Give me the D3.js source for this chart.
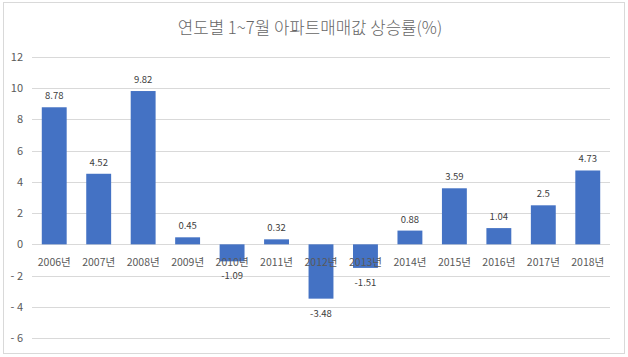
<!DOCTYPE html>
<html><head><meta charset="utf-8">
<script src="https://cdn.jsdelivr.net/npm/d3@7"></script>
<style>
body{margin:0;background:#fff;}
svg{display:block;font-family:"Noto Sans CJK KR","Noto Sans",sans-serif;}
</style></head>
<body>
<script>
const categories = ["2006년","2007년","2008년","2009년","2010년","2011년","2012년","2013년","2014년","2015년","2016년","2017년","2018년"];
const values = [8.78,4.52,9.82,0.45,-1.09,0.32,-3.48,-1.51,0.88,3.59,1.04,2.5,4.73];
const yTicks = [-6,-4,-2,0,2,4,6,8,10,12];
const title = "연도별 1~7월 아파트매매값 상승률(%)";

const W=628,H=357;
const svg=d3.select("body").append("svg").attr("width",W).attr("height",H);
svg.append("rect").attr("x",3.5).attr("y",2.5).attr("width",621).attr("height",351)
  .attr("fill","#fff").attr("stroke","#d9d9d9");

const L=32,R=610,T=57,B=338;
const x=d3.scaleBand().domain(categories).range([L,R]).paddingInner(0.44).paddingOuter(0.22);
const y=d3.scaleLinear().domain([-6,12]).range([B,T]);

svg.append("text").attr("x",310).attr("y",34).attr("text-anchor","middle")
  .attr("font-size",16.8).attr("font-weight",300).attr("fill","#666").text(title);

const g=svg.append("g");
g.selectAll("line.grid").data(yTicks).join("line").attr("class","grid")
  .attr("x1",L).attr("x2",R).attr("y1",d=>Math.round(y(d))+0.5).attr("y2",d=>Math.round(y(d))+0.5)
  .attr("stroke","#d9d9d9").attr("stroke-width",1);

const yAxis=d3.axisLeft(y).tickValues(yTicks).tickSize(0).tickPadding(0).tickFormat(d=>d<0?"- "+Math.abs(d):d);
const ya=svg.append("g").attr("transform",`translate(23,0)`).call(yAxis);
ya.select(".domain").remove();
ya.selectAll("text").attr("font-size",11).attr("fill","#595959").attr("font-family","'Noto Sans CJK KR',sans-serif");

g.selectAll("rect.bar").data(values).join("rect").attr("class","bar")
  .attr("x",(d,i)=>x(categories[i])).attr("width",x.bandwidth())
  .attr("y",d=>y(Math.max(0,d))).attr("height",d=>Math.abs(y(d)-y(0)))
  .attr("fill","#4472C4");

const xAxis=d3.axisBottom(x).tickSize(0).tickPadding(0);
const xa=svg.append("g").attr("transform",`translate(0,${y(0)+22})`).call(xAxis);
xa.select(".domain").remove();
xa.selectAll("text").attr("dy",0).attr("font-size",10.5).attr("fill","#595959").attr("font-family","'Noto Sans CJK KR',sans-serif");

g.selectAll("text.lbl").data(values).join("text").attr("class","lbl")
  .attr("x",(d,i)=>x(categories[i])+x.bandwidth()/2)
  .attr("y",d=>d>=0?y(d)-8:y(d)+18)
  .attr("text-anchor","middle").attr("font-size",9.5).attr("fill","#404040")
  .text(d=>d);
</script>
</body></html>
